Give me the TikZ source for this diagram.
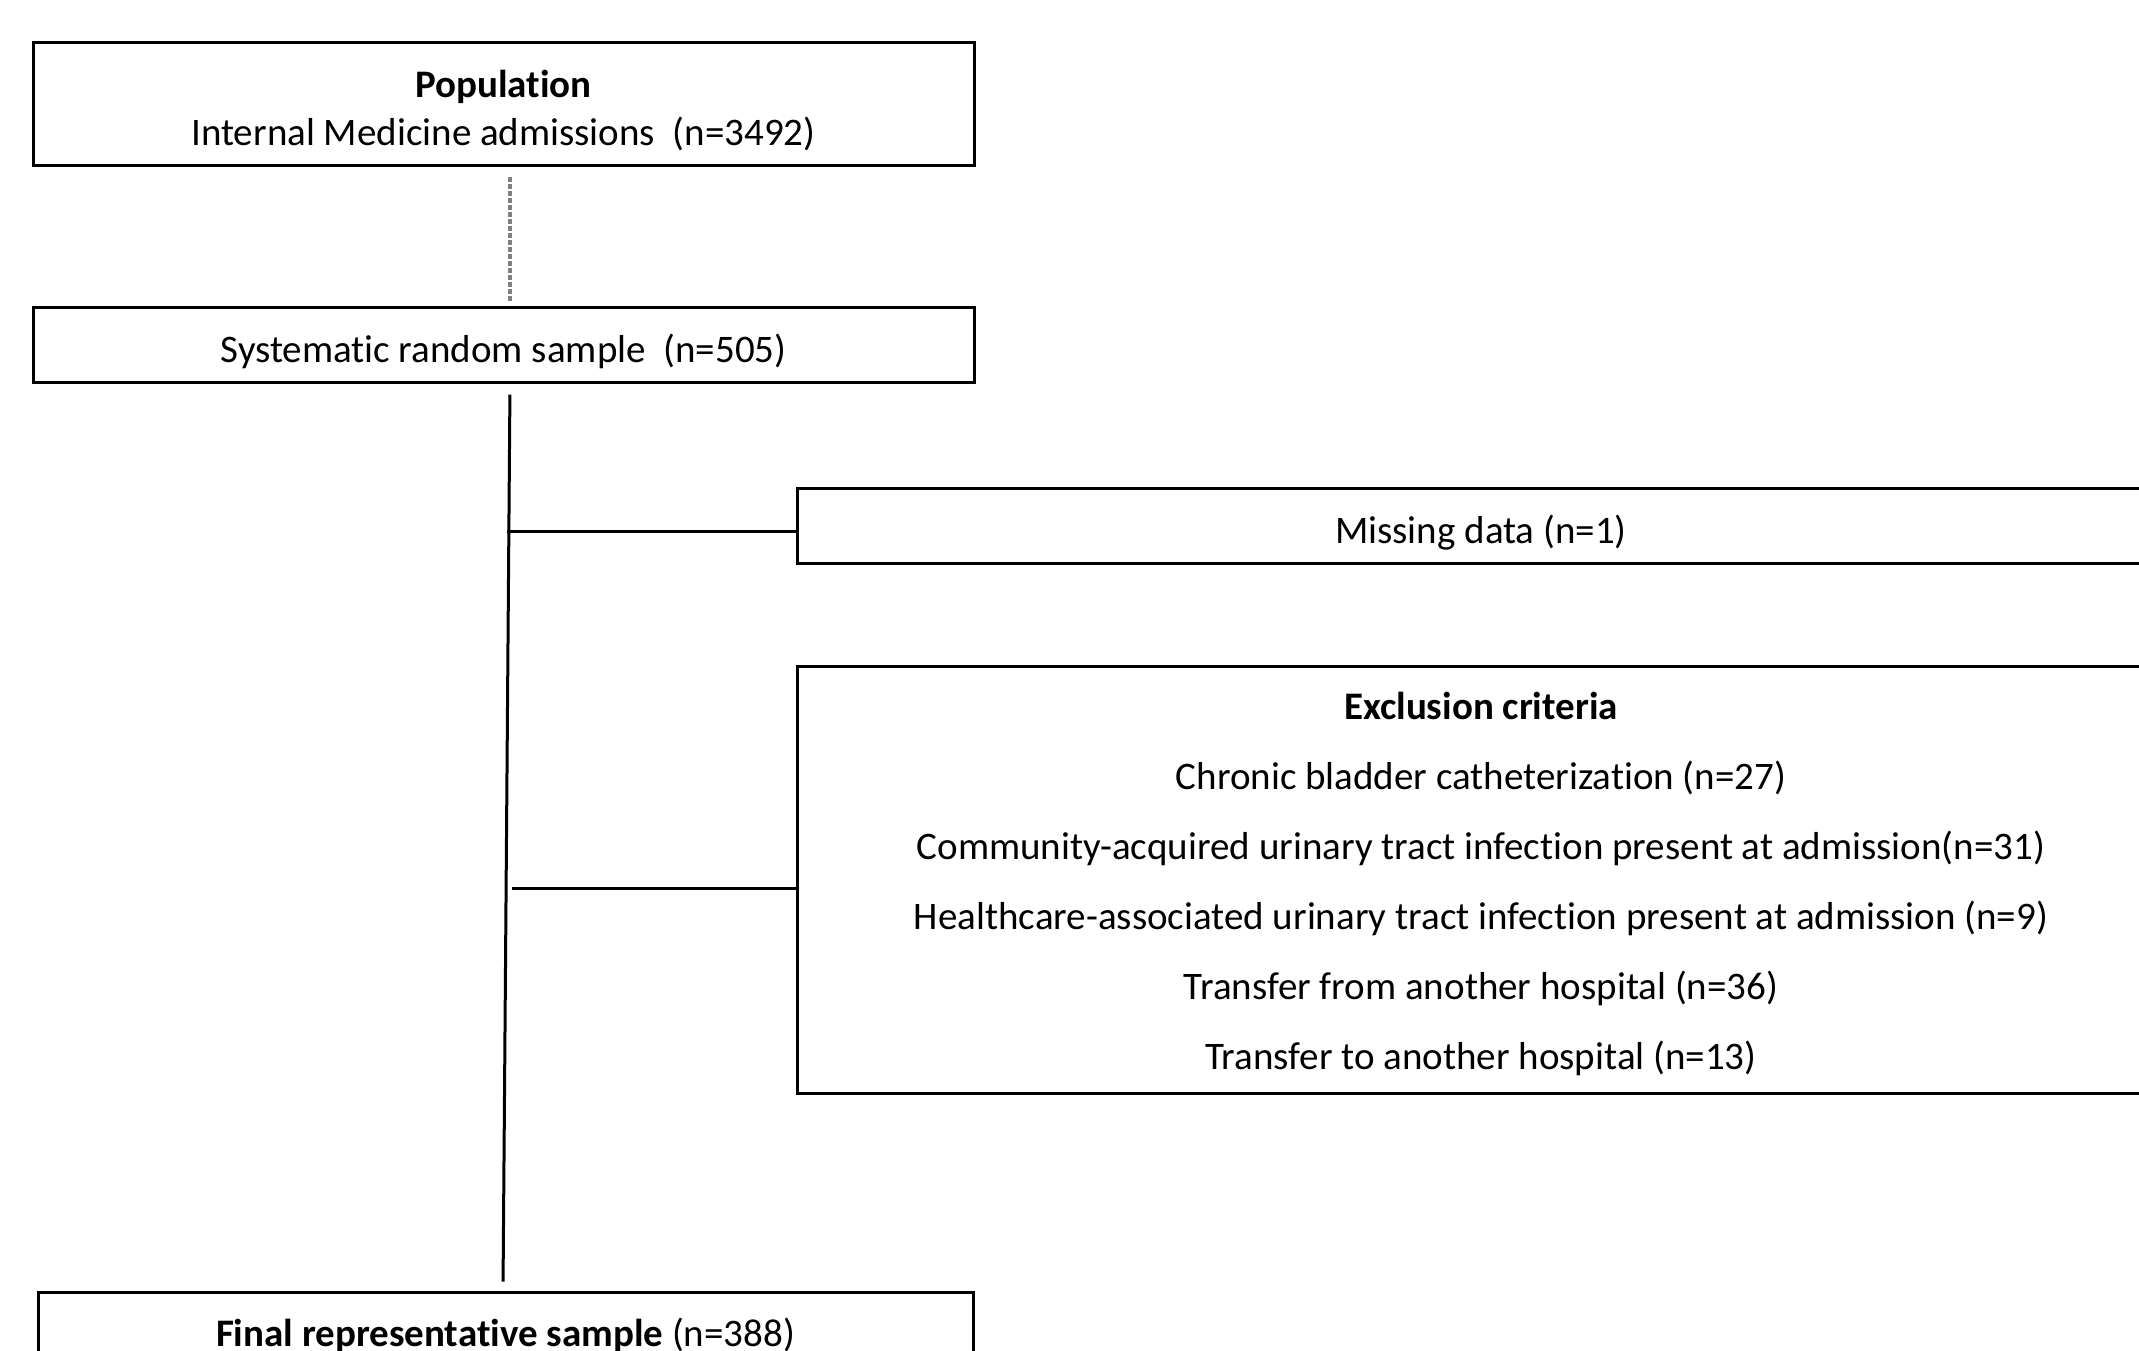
\documentclass[tikz,border=0pt]{standalone}
\usepackage{fontspec}
\setmainfont{Carlito}[Ligatures=NoCommon]
\newcommand{\lowertext}[2]{\raisebox{-#1}[\height][\depth]{#2}}
\begin{document}
\begin{tikzpicture}[x=1pt,y=-1pt,
  box/.style={draw=black,line width=3pt,rectangle,inner sep=0pt,align=center,
    font=\fontsize{39}{48}\selectfont},
  link/.style={line width=3pt,black},
  dotted link/.style={line width=3.5pt,gray,dash pattern=on 5pt off 2pt}]
\clip (0,0) rectangle (2139,1350);
\fill[white] (0,0) rectangle (2139,1350);
\node[box,minimum width=941pt,minimum height=123pt] (pop) at (503.5,103.5)
  {\lowertext{7pt}{\parbox{900pt}{\centering\textbf{Population}\\Internal Medicine admissions\ \ (n=3492)}}};
\node[box,minimum width=941pt,minimum height=75pt] (sys) at (503.5,344.5)
  {\lowertext{7pt}{Systematic random sample\ \ (n=505)}};
\node[box,minimum width=1367pt,minimum height=75pt] (miss) at (1481,525.5)
  {\lowertext{7pt}{Missing data (n=1)}};
\node[box,minimum width=1367pt,minimum height=427pt,
  font=\fontsize{39}{70}\selectfont] (excl) at (1481,879.5)
  {\lowertext{4pt}{\parbox{1300pt}{\centering\textbf{Exclusion criteria}\\
   Chronic bladder catheterization (n=27)\\
   Community-acquired urinary tract infection present at admission(n=31)\\
   Healthcare-associated urinary tract infection present at admission (n=9)\\
   Transfer from another hospital (n=36)\\
   Transfer to another hospital (n=13)}}};
\node[box,minimum width=935pt,minimum height=78pt] (final) at (505.5,1331)
  {\lowertext{4pt}{\textbf{Final representative sample} (n=388)}};
\coordinate (t1) at (507,531);
\coordinate (t2) at (512,888);
\draw[dotted link,shorten <=10pt,shorten >=4pt] ([xshift=6.5pt]pop.south) -- ([xshift=6.5pt]sys.north);
\draw[link,shorten <=11pt,shorten >=9pt] ([xshift=6.5pt]sys.south) -- ([xshift=-2.5pt]final.north);
\draw[link] (miss.west |- t1) -- (t1);
\draw[link] (excl.west |- t2) -- (t2);
\end{tikzpicture}
\end{document}
